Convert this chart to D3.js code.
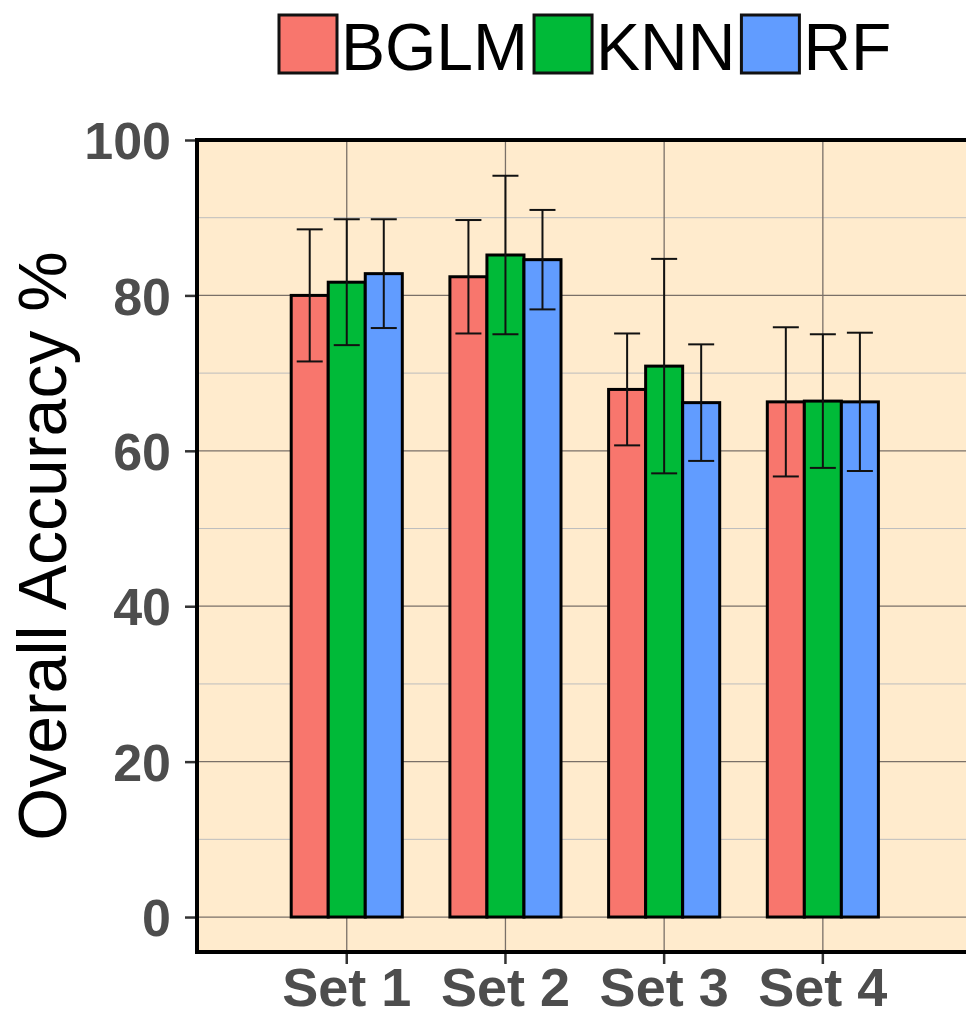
<!DOCTYPE html>
<html>
<head>
<meta charset="utf-8">
<script src="https://cdn.jsdelivr.net/npm/d3@7"></script>
<style>
  html, body { margin: 0; padding: 0; background: #ffffff; }
  svg { display: block; }
</style>
</head>
<body>
<div id="chart"></div>
<script>
// data
const sets = ['Set 1', 'Set 2', 'Set 3', 'Set 4'];
const models = ['BGLM', 'KNN', 'RF'];
const modelColors = ['#F8766D', '#00BA38', '#619CFF'];
const accuracy = {
  BGLM: [80.0, 82.4, 67.9, 66.3],
  KNN: [81.7, 85.2, 70.9, 66.4],
  RF: [82.8, 84.6, 66.2, 66.3],
};
const errorSize = {
  BGLM: [8.5, 7.3, 7.2, 9.6],
  KNN: [8.1, 10.2, 13.8, 8.6],
  RF: [7.0, 6.4, 7.5, 8.9],
};
const yMajorTicks = [0, 20, 40, 60, 80, 100];
const yMinorTicks = [10, 30, 50, 70, 90];

const width = 966;
const height = 1021;
const panel = { left: 197, top: 140, right: 972, bottom: 952 };

const svg = d3
  .select('#chart')
  .append('svg')
  .attr('width', width)
  .attr('height', height)
  .attr('viewBox', `0 0 ${width} ${height}`);

const y = d3.scaleLinear([-4.5, 100], [panel.bottom, panel.top]);
const x = d3.scaleBand().domain(sets).range([267.4, 902.2]).padding(0);
const dodge = d3
  .scaleBand()
  .domain(models)
  .range([0, x.bandwidth() * 0.7]);
const groupOffset = (x.bandwidth() - dodge.range()[1]) / 2;

const rows = [];
sets.forEach((s, i) => {
  models.forEach((m, j) => {
    rows.push({ set: s, model: m, color: modelColors[j], value: accuracy[m][i], err: errorSize[m][i] });
  });
});

// panel background
svg
  .append('rect')
  .attr('x', panel.left)
  .attr('y', panel.top)
  .attr('width', panel.right - panel.left)
  .attr('height', panel.bottom - panel.top)
  .attr('fill', '#FFEBCD');

// grid
const grid = svg.append('g');
grid
  .selectAll('.minor')
  .data(yMinorTicks)
  .enter()
  .append('line')
  .attr('x1', panel.left)
  .attr('x2', panel.right)
  .attr('y1', (d) => y(d))
  .attr('y2', (d) => y(d))
  .attr('stroke', '#BDBDBD')
  .attr('stroke-width', 1);
grid
  .selectAll('.major')
  .data(yMajorTicks)
  .enter()
  .append('line')
  .attr('x1', panel.left)
  .attr('x2', panel.right)
  .attr('y1', (d) => y(d))
  .attr('y2', (d) => y(d))
  .attr('stroke', '#7A7068')
  .attr('stroke-width', 1.3);
grid
  .selectAll('.vert')
  .data(sets)
  .enter()
  .append('line')
  .attr('x1', (d) => x(d) + x.bandwidth() / 2)
  .attr('x2', (d) => x(d) + x.bandwidth() / 2)
  .attr('y1', panel.top)
  .attr('y2', panel.bottom)
  .attr('stroke', '#7A7068')
  .attr('stroke-width', 1.3);

// bars
svg
  .append('g')
  .selectAll('rect')
  .data(rows)
  .enter()
  .append('rect')
  .attr('x', (d) => x(d.set) + groupOffset + dodge(d.model))
  .attr('y', (d) => y(d.value))
  .attr('width', dodge.bandwidth())
  .attr('height', (d) => y(0) - y(d.value))
  .attr('fill', (d) => d.color)
  .attr('stroke', '#000')
  .attr('stroke-width', 3);

// error bars
const capHalf = 13;
const eb = svg.append('g').attr('stroke', '#111').attr('stroke-width', 2);
const ebx = (d) => x(d.set) + groupOffset + dodge(d.model) + dodge.bandwidth() / 2;
eb.selectAll('.stem')
  .data(rows)
  .enter()
  .append('line')
  .attr('x1', ebx)
  .attr('x2', ebx)
  .attr('y1', (d) => y(d.value + d.err))
  .attr('y2', (d) => y(d.value - d.err));
eb.selectAll('.top')
  .data(rows)
  .enter()
  .append('line')
  .attr('x1', (d) => ebx(d) - capHalf)
  .attr('x2', (d) => ebx(d) + capHalf)
  .attr('y1', (d) => y(d.value + d.err))
  .attr('y2', (d) => y(d.value + d.err));
eb.selectAll('.bottom')
  .data(rows)
  .enter()
  .append('line')
  .attr('x1', (d) => ebx(d) - capHalf)
  .attr('x2', (d) => ebx(d) + capHalf)
  .attr('y1', (d) => y(d.value - d.err))
  .attr('y2', (d) => y(d.value - d.err));

// panel border (left, top, bottom)
svg
  .append('path')
  .attr('d', `M${panel.right + 10},${panel.top}H${panel.left}V${panel.bottom}H${panel.right + 10}`)
  .attr('fill', 'none')
  .attr('stroke', '#000')
  .attr('stroke-width', 4);

// y axis
const yAxis = svg
  .append('g')
  .attr('transform', `translate(${panel.left - 2},0)`)
  .call(d3.axisLeft(y).tickValues(yMajorTicks).tickSize(10).tickPadding(14));
yAxis.select('.domain').remove();
yAxis.selectAll('.tick line').attr('stroke', '#333').attr('stroke-width', 2.5);
yAxis
  .selectAll('text')
  .attr('fill', '#4D4D4D')
  .style('font-family', 'Liberation Sans, Arial, sans-serif')
  .style('font-weight', 'bold')
  .style('font-size', '52px')
  .attr('dy', '0.36em');

// x axis
const xAxis = svg
  .append('g')
  .attr('transform', `translate(0,${panel.bottom + 2})`)
  .call(d3.axisBottom(x).tickSize(10).tickPadding(4));
xAxis.select('.domain').remove();
xAxis.selectAll('.tick line').attr('stroke', '#333').attr('stroke-width', 2.5);
xAxis
  .selectAll('text')
  .attr('fill', '#4D4D4D')
  .style('font-family', 'Liberation Sans, Arial, sans-serif')
  .style('font-weight', 'bold')
  .style('font-size', '54px')
  .attr('dy', '0.71em');

// y title
svg
  .append('text')
  .attr('transform', `translate(66,${(panel.top + panel.bottom) / 2}) rotate(-90)`)
  .attr('text-anchor', 'middle')
  .style('font-family', 'Liberation Sans, Arial, sans-serif')
  .style('font-size', '68px')
  .attr('fill', '#000')
  .text('Overall Accuracy %');

// legend
const legend = svg.append('g');
const keySize = 58;
let lx = 279;
models.forEach((m, i) => {
  legend
    .append('rect')
    .attr('x', lx)
    .attr('y', 15)
    .attr('width', keySize)
    .attr('height', keySize)
    .attr('fill', modelColors[i])
    .attr('stroke', '#111')
    .attr('stroke-width', 3);
  const t = legend
    .append('text')
    .attr('x', lx + keySize + 4)
    .attr('y', 70)
    .style('font-family', 'Liberation Sans, Arial, sans-serif')
    .style('font-size', '66px')
    .attr('fill', '#000')
    .text(m);
  lx += keySize + 4 + t.node().getComputedTextLength() + 6;
});
</script>
</body>
</html>
